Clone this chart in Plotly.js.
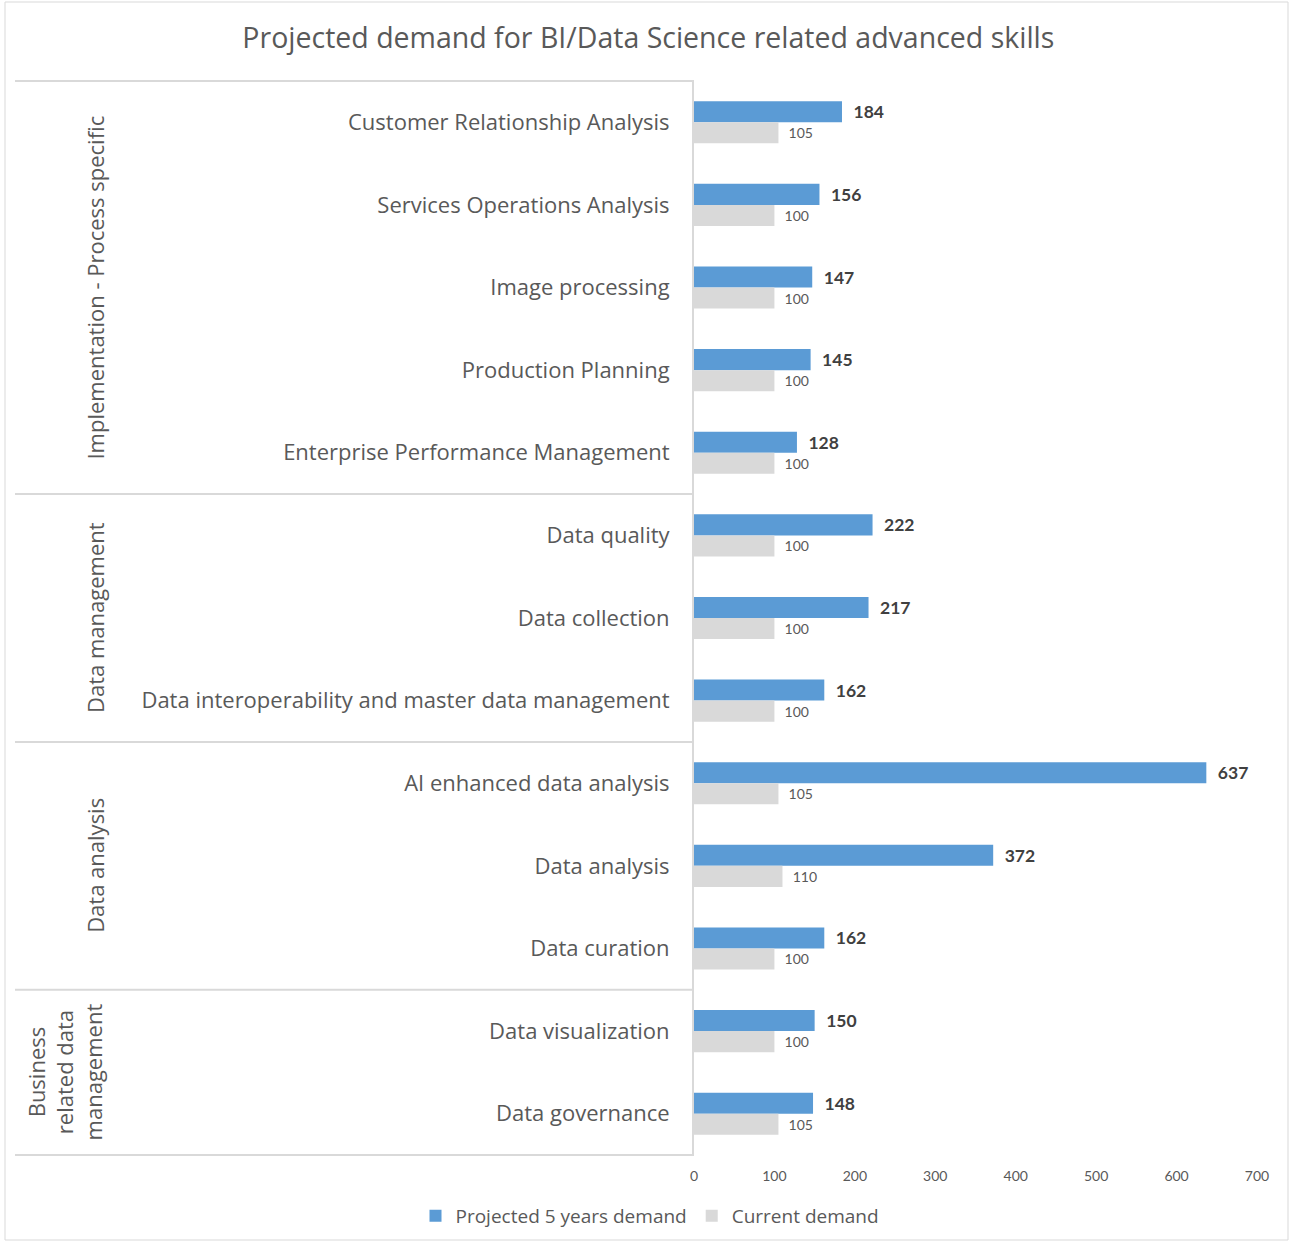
<!DOCTYPE html>
<html>
<head>
<meta charset="utf-8">
<script src="https://cdn.plot.ly/plotly-3.0.1.min.js"></script>
<style>html,body{margin:0;padding:0;background:#fff;}#chart{width:1289px;height:1242px;}</style>
</head>
<body>
<div id="chart"></div>
<script>
const categories = [
  "Customer Relationship Analysis",
  "Services Operations Analysis",
  "Image processing",
  "Production Planning",
  "Enterprise Performance Management",
  "Data quality",
  "Data collection",
  "Data interoperability and master data management",
  "AI enhanced data analysis",
  "Data analysis",
  "Data curation",
  "Data visualization",
  "Data governance"
];
const projected = [184, 156, 147, 145, 128, 222, 217, 162, 637, 372, 162, 150, 148];
const current = [105, 100, 100, 100, 100, 100, 100, 100, 105, 110, 100, 100, 105];
const groupNames = ["Implementation - Process specific", "Data management", "Data analysis", "Business<br>related data<br>management"];
const groupSizes = [5, 3, 3, 2];
const xTicks = [0, 100, 200, 300, 400, 500, 600, 700];

const W = 1289, H = 1242;
const L = 694, R = 1257, T = 80, B = 1156;
const pw = R - L, ph = B - T;
const px = v => (v - L) / pw;
const py = v => (B - v) / ph;
const lineCol = '#d9d9d9';
const txt = '#595959';
const FONT = '"Open Sans", "Liberation Sans", sans-serif';
const NUMFONT = 'Lato, "Liberation Sans", sans-serif';

const traces = [
  {
    type: 'bar', orientation: 'h', name: 'Projected 5 years demand',
    y: categories, x: projected,
    marker: {color: '#5B9BD5', line: {width: 0}},
    text: projected.map(String), texttemplate: '\u00a0\u00a0%{x}',
    textposition: 'outside', cliponaxis: false,
    textfont: {family: NUMFONT, size: 17.5, color: '#404040', weight: 'bold'},
    hoverinfo: 'x+y'
  },
  {
    type: 'bar', orientation: 'h', name: 'Current demand',
    y: categories, x: current,
    marker: {color: '#D9D9D9', line: {width: 0}},
    text: current.map(String), texttemplate: '\u00a0\u00a0%{x}',
    textposition: 'outside', cliponaxis: false,
    textfont: {family: NUMFONT, size: 14, color: txt},
    hoverinfo: 'x+y'
  }
];

const shapes = [];
const annotations = [];
// outer border
shapes.push({type: 'rect', xref: 'paper', yref: 'paper',
  x0: px(5), x1: px(1288), y0: py(1240), y1: py(2),
  line: {color: lineCol, width: 1}, layer: 'below'});
// group separators and labels
let start = 0;
const boundaries = [-0.5];
groupSizes.forEach((n, i) => {
  const end = start + n;
  boundaries.push(end - 0.5);
  annotations.push({
    xref: 'paper', yref: 'y', x: px(i === 3 ? 64 : 95), y: (start + end - 1) / 2,
    xanchor: 'center', yanchor: 'middle',
    text: groupNames[i], textangle: -90, showarrow: false,
    font: {family: FONT, size: 22, color: txt}, align: 'center'
  });
  start = end;
});
boundaries.forEach(b => {
  shapes.push({type: 'line', xref: 'paper', yref: 'y', x0: px(15), x1: 0, y0: b, y1: b,
    line: {color: lineCol, width: 2}});
});

const layout = {
  width: W, height: H,
  margin: {l: L, r: W - R, t: T, b: H - B, pad: 0, autoexpand: false},
  paper_bgcolor: '#fff', plot_bgcolor: '#fff',
  font: {family: FONT, color: txt},
  title: {text: 'Projected demand for BI/Data Science related advanced skills',
    font: {family: FONT, size: 28.5, color: txt}, x: 0.503, xanchor: 'center', y: 1 - 38 / H, yanchor: 'middle'},
  barmode: 'group', bargap: 0.49, bargroupgap: 0,
  xaxis: {range: [0, 700], tickvals: xTicks, ticktext: xTicks.map(String),
    showgrid: false, zeroline: false, showline: false, ticks: '',
    tickfont: {family: NUMFONT, size: 14, color: txt}, ticklabelstandoff: 10, fixedrange: true},
  yaxis: {type: 'category', autorange: 'reversed', showgrid: false, zeroline: false,
    showline: true, linecolor: lineCol, linewidth: 2, ticks: '',
    tickfont: {family: FONT, size: 22, color: txt}, ticklabelstandoff: 18, fixedrange: true},
  legend: {orientation: 'h', xref: 'container', yref: 'container',
    x: 650 / W, xanchor: 'center', y: 1 - 1216 / H, yanchor: 'middle',
    font: {family: FONT, size: 19, color: txt}, itemwidth: 30, traceorder: 'normal'},
  shapes: shapes, annotations: annotations,
  showlegend: true
};

Plotly.newPlot('chart', traces, layout, {displayModeBar: false, staticPlot: true});
</script>
</body>
</html>
